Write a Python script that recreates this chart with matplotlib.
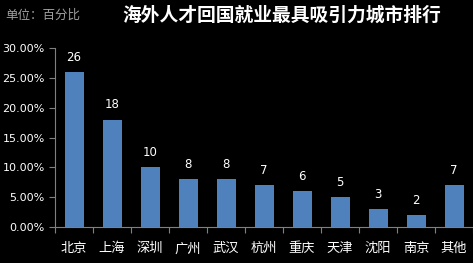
import matplotlib.pyplot as plt
from matplotlib.ticker import FuncFormatter

plt.rcParams['font.family'] = ['Noto Sans CJK SC', 'DejaVu Sans']

cities = ['北京', '上海', '深圳', '广州', '武汉', '杭州', '重庆', '天津', '沈阳', '南京', '其他']
values = [26, 18, 10, 8, 8, 7, 6, 5, 3, 2, 7]

fig = plt.figure(figsize=(4.73, 2.63), dpi=100, facecolor='black')
ax = fig.add_axes([55 / 473, 1 - 227 / 263, 418 / 473, 179 / 263], facecolor='black')

x = range(len(cities))
ax.bar(x, [v / 100 for v in values], width=0.5, color='#4F81BD')
for i, v in zip(x, values):
    ax.annotate(str(v), (i, v / 100), xytext=(0, 6), textcoords='offset points',
                ha='center', va='bottom', color='white', fontsize=8.5, family='DejaVu Sans')

ax.set_xlim(-0.5, len(cities) - 0.5)
ax.set_ylim(0, 0.30)
ax.set_yticks([0, 0.05, 0.10, 0.15, 0.20, 0.25, 0.30])
ax.yaxis.set_major_formatter(FuncFormatter(lambda v, p: '%.2f%%' % (v * 100)))
ax.set_xticks([i - 0.5 for i in range(len(cities) + 1)])
ax.set_xticklabels([])
ax.set_xticks(list(x), minor=True)
ax.set_xticklabels(cities, minor=True)
ax.tick_params(axis='x', which='minor', length=0, pad=11, labelsize=9.5, labelcolor='white')
ax.tick_params(axis='x', which='major', length=4, color='#808080')
ax.tick_params(axis='y', length=4, color='#808080', labelcolor='white', labelsize=8)
for lab in ax.get_yticklabels():
    lab.set_family('DejaVu Sans')

for s in ['top', 'right']:
    ax.spines[s].set_visible(False)
for s in ['left', 'bottom']:
    ax.spines[s].set_color('#808080')

fig.text(5 / 473, 1 - 15 / 263, '单位：百分比', color='#A0A0A0', fontsize=9, va='center', ha='left')
fig.text(282 / 473, 1 - 15 / 263, '海外人才回国就业最具吸引力城市排行', color='white',
         fontsize=13.5, fontweight='bold', va='center', ha='center')

fig.savefig('out.png', dpi=100, facecolor='black')
